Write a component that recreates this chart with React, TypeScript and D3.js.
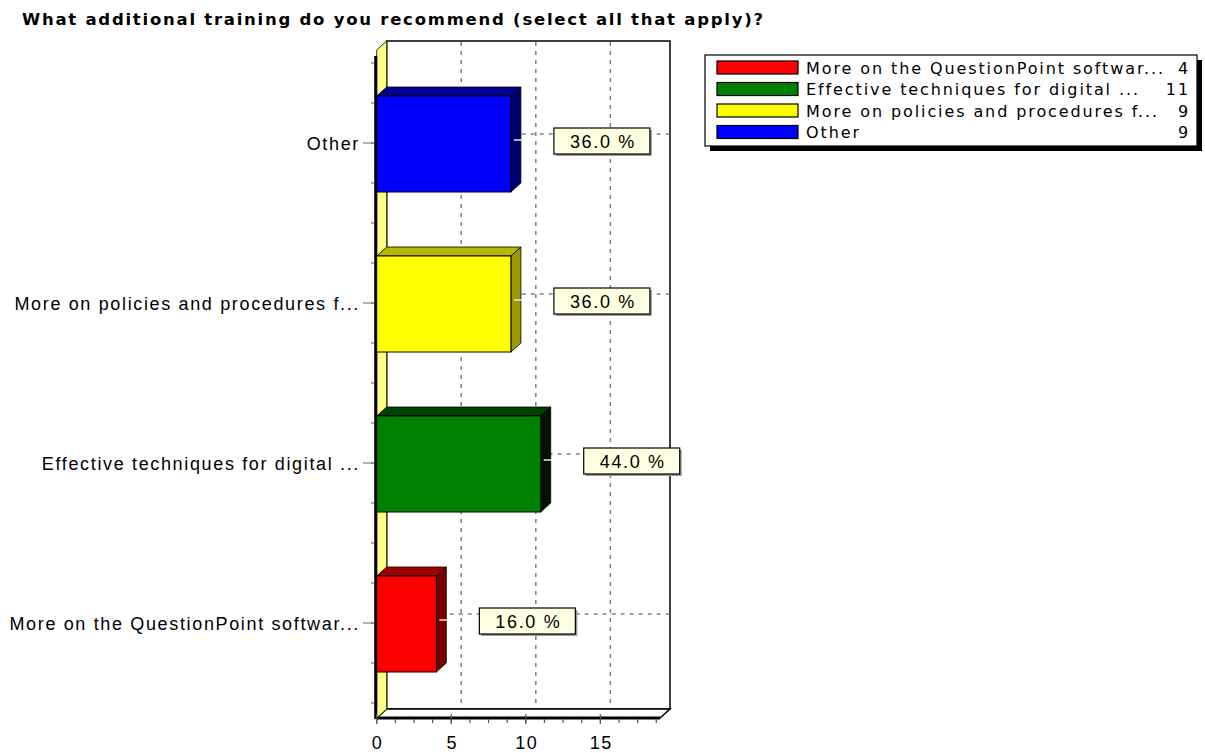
import React from "react";
import * as d3 from "d3";

const title = "What additional training do you recommend (select all that apply)?";
const categories = [
  "More on the QuestionPoint softwar...",
  "Effective techniques for digital ...",
  "More on policies and procedures f...",
  "Other",
];
const counts = [4, 11, 9, 9];
const percentLabels = ["16.0 %", "44.0 %", "36.0 %", "36.0 %"];
const frontColors = ["#ff0000", "#008000", "#ffff00", "#0000ff"];
const topColors = ["#a00000", "#004000", "#b8b800", "#000090"];
const sideColors = ["#780000", "#001400", "#9a9a00", "#000070"];
const xTickValues = [0, 5, 10, 15];

const W = 1205;
const H = 753;
const DX = 10;
const DY = -9;
const FRONT_LEFT = 376.7;
const FRONT_RIGHT = 660;
const FRONT_TOP = 50;
const FRONT_BOTTOM = 718;

const labelFont = "'Liberation Sans', Arial, sans-serif";
const LABEL_SIZE = 18;
const LABEL_SPACING = 1.65;

export default function App() {
  const x = d3.scaleLinear().domain([0, 19]).range([FRONT_LEFT, FRONT_RIGHT]);
  const y = d3.scaleBand<string>().domain(categories).range([703, 63]);
  const bw = y.bandwidth();
  const barH = bw * 0.6;

  const backLeft = FRONT_LEFT + DX;
  const backRight = FRONT_RIGHT + DX;
  const backTop = FRONT_TOP + DY;
  const backBottom = FRONT_BOTTOM + DY;

  const minorX = d3.range(0, 19, 1.25);
  const yMinor: number[] = [];
  categories.forEach((c) => {
    for (let k = 0; k < 4; k++) yMinor.push((y(c) as number) + (k * bw) / 4);
  });
  yMinor.push(703);

  return (
    <svg
      width={W}
      height={H}
      style={{ position: "absolute", left: 0, top: 0, background: "#fff" }}
    >
      <rect x={0} y={0} width={W} height={H} fill="#fff" />
      {/* title */}
      <text
        x={22}
        y={25}
        fontFamily="'DejaVu Sans', Verdana, sans-serif"
        fontWeight="bold"
        fontSize={16.5}
        letterSpacing={1.75}
        fill="#000"
      >
        {title}
      </text>

      {/* back wall */}
      <rect
        x={backLeft}
        y={backTop}
        width={backRight - backLeft}
        height={backBottom - backTop}
        fill="#fff"
        stroke="#000"
        strokeWidth={1.5}
      />
      {/* vertical gridlines */}
      {xTickValues
        .filter((v) => v > 0)
        .map((v) => (
          <line
            key={"g" + v}
            x1={x(v) + DX}
            x2={x(v) + DX}
            y1={backTop + 1}
            y2={backBottom - 1}
            stroke="#808080"
            strokeWidth={1.5}
            strokeDasharray="4,5"
          />
        ))}
      {/* horizontal dashed gridlines at category centers */}
      {categories.map((c) => {
        const cy = (y(c) as number) + bw / 2 + DY;
        return (
          <line
            key={"h" + c}
            x1={backLeft}
            x2={backRight}
            y1={cy}
            y2={cy}
            stroke="#808080"
            strokeWidth={1.5}
            strokeDasharray="4,5"
          />
        );
      })}

      {/* floor */}
      <polygon
        points={`${FRONT_LEFT},${FRONT_BOTTOM} ${backLeft},${backBottom} ${backRight},${backBottom} ${FRONT_RIGHT},${FRONT_BOTTOM}`}
        fill="#fff"
        stroke="#000"
        strokeWidth={1.5}
      />
      <line x1={FRONT_LEFT - 1} x2={FRONT_RIGHT} y1={FRONT_BOTTOM} y2={FRONT_BOTTOM} stroke="#000" strokeWidth={3} />

      {/* left wall */}
      <polygon
        points={`${FRONT_LEFT},${FRONT_TOP} ${backLeft},${backTop} ${backLeft},${backBottom} ${FRONT_LEFT},${FRONT_BOTTOM}`}
        fill="#ffff88"
        stroke="#303000"
        strokeWidth={1}
      />
      <line x1={FRONT_LEFT - 1} x2={FRONT_LEFT - 1} y1={FRONT_TOP + 6} y2={FRONT_BOTTOM + 1} stroke="#000" strokeWidth={3} />

      {/* y ticks */}
      {yMinor.map((t, i) => (
        <line key={"ym" + i} x1={371} x2={375} y1={t} y2={t} stroke="#555" strokeWidth={1} />
      ))}
      {categories.map((c) => {
        const cy = (y(c) as number) + bw / 2;
        return (
          <g key={"yl" + c}>
            <line x1={363} x2={375} y1={cy} y2={cy} stroke="#666" strokeWidth={1} />
            <text
              x={360}
              y={cy + 6.5}
              textAnchor="end"
              fontFamily={labelFont}
              fontSize={LABEL_SIZE}
              letterSpacing={LABEL_SPACING}
              fill="#000"
            >
              {c}
            </text>
          </g>
        );
      })}

      {/* x ticks */}
      {minorX.map((v) => (
        <line key={"xm" + v} x1={x(v)} x2={x(v)} y1={FRONT_BOTTOM + 1} y2={FRONT_BOTTOM + 5} stroke="#555" strokeWidth={1.2} />
      ))}
      {xTickValues.map((v) => (
        <g key={"xt" + v}>
          <line x1={x(v)} x2={x(v)} y1={FRONT_BOTTOM - 4} y2={FRONT_BOTTOM + 6} stroke="#555" strokeWidth={1.2} />
          <text
            x={x(v) + 1}
            y={748.5}
            textAnchor="middle"
            fontFamily={labelFont}
            fontSize={LABEL_SIZE}
            letterSpacing={LABEL_SPACING}
            fill="#000"
          >
            {v}
          </text>
        </g>
      ))}

      {/* bars */}
      {categories.map((c, i) => {
        const cy = (y(c) as number) + bw / 2 + 1;
        const y0 = cy - barH / 2;
        const y1 = cy + barH / 2;
        const x0 = x(0);
        const x1 = x(counts[i]);
        return (
          <g key={"b" + c}>
            <polygon
              points={`${x0},${y0} ${x0 + DX},${y0 + DY} ${x1 + DX},${y0 + DY} ${x1},${y0}`}
              fill={topColors[i]}
              stroke="#000"
              strokeWidth={0.8}
            />
            <polygon
              points={`${x1},${y0} ${x1 + DX},${y0 + DY} ${x1 + DX},${y1 + DY} ${x1},${y1}`}
              fill={sideColors[i]}
              stroke="#000"
              strokeWidth={0.8}
            />
            <rect
              x={x0}
              y={y0}
              width={x1 - x0}
              height={y1 - y0}
              fill={frontColors[i]}
              stroke="#000"
              strokeWidth={1}
            />
            <line
              x1={x1 + 3}
              x2={x1 + DX + 2}
              y1={cy - 4}
              y2={cy - 4}
              stroke="#e8e8e8"
              strokeWidth={1.5}
            />
          </g>
        );
      })}

      {/* value labels */}
      {categories.map((c, i) => {
        const cy = (y(c) as number) + bw / 2 - 2;
        const bx = x(counts[i]) + DX + 33;
        const bwid = 96;
        const bh = 26;
        return (
          <g key={"l" + c}>
            <rect x={bx + 2} y={cy - bh / 2 + 2} width={bwid} height={bh} fill="#9a9a9a" />
            <rect x={bx} y={cy - bh / 2} width={bwid} height={bh} fill="#ffffe1" stroke="#000" strokeWidth={1.2} />
            <text
              x={bx + bwid / 2 + 1}
              y={cy + 6.5}
              textAnchor="middle"
              fontFamily={labelFont}
              fontSize={LABEL_SIZE}
              letterSpacing={LABEL_SPACING}
              fill="#000"
            >
              {percentLabels[i]}
            </text>
          </g>
        );
      })}

      {/* legend */}
      <rect x={710} y={60} width={492} height={91} fill="#000" />
      <rect x={705} y={55} width={492} height={91} fill="#fff" stroke="#000" strokeWidth={1.2} />
      {categories.map((c, i) => {
        const ry = 67.5 + i * 21.5;
        return (
          <g key={"lg" + c}>
            <rect x={717} y={ry - 6.5} width={81} height={13} fill={frontColors[i]} stroke="#000" strokeWidth={1.2} />
            <text
              x={806}
              y={ry + 6}
              fontFamily="'DejaVu Sans', Verdana, sans-serif"
              fontSize={16}
              letterSpacing={1.9}
              fill="#000"
            >
              {c}
            </text>
            <text
              x={1190}
              y={ry + 6}
              textAnchor="end"
              fontFamily="'DejaVu Sans', Verdana, sans-serif"
              fontSize={16}
              letterSpacing={1.9}
              fill="#000"
            >
              {counts[i]}
            </text>
          </g>
        );
      })}
    </svg>
  );
}
